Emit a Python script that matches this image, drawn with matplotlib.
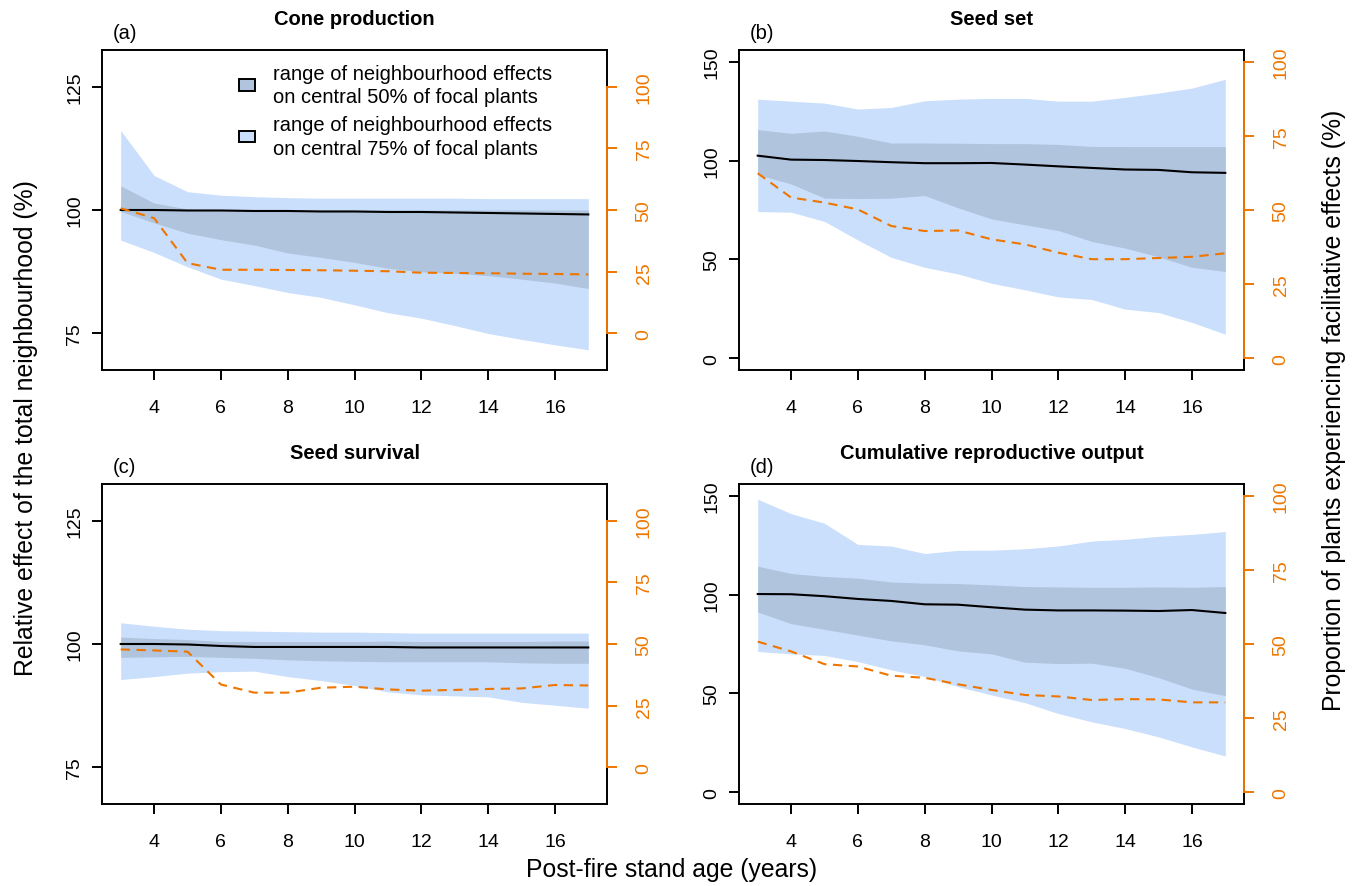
import matplotlib
matplotlib.use('Agg')
import matplotlib.pyplot as plt
from matplotlib.patches import Rectangle

plt.rcParams['font.family'] = ['Liberation Sans', 'DejaVu Sans']
plt.rcParams['lines.scale_dashes'] = False

W, H = 1353, 887
DPI = 100

age = list(range(3, 18))
age_ticks = [4, 6, 8, 10, 12, 14, 16]
facil_ticks = [0, 25, 50, 75, 100]

# (a) Cone production
cone_outer_upper = [116.1, 107.0, 103.7, 103.0, 102.7, 102.5, 102.4, 102.4, 102.4, 102.4, 102.4, 102.3, 102.3, 102.3, 102.3]
cone_inner_upper = [104.9, 101.4, 100.2, 100.0, 100.0, 100.0, 100.0, 100.0, 100.0, 100.0, 100.0, 100.0, 100.0, 100.0, 100.0]
cone_median      = [100.0, 100.0, 99.9, 99.9, 99.8, 99.8, 99.7, 99.7, 99.6, 99.6, 99.5, 99.4, 99.3, 99.2, 99.1]
cone_inner_lower = [99.7, 97.4, 95.3, 94.0, 92.9, 91.3, 90.4, 89.4, 88.2, 87.5, 87.2, 86.7, 86.0, 85.2, 84.1]
cone_outer_lower = [93.9, 91.4, 88.5, 86.0, 84.7, 83.3, 82.3, 80.8, 79.2, 78.1, 76.6, 75.0, 73.8, 72.7, 71.7]
cone_facil       = [50.7, 46.7, 28.5, 25.8, 25.8, 25.7, 25.6, 25.4, 25.2, 24.6, 24.5, 24.4, 24.2, 24.1, 23.9]

# (b) Seed set
set_outer_upper = [131.1, 130.1, 129.1, 126.1, 126.9, 130.3, 131.1, 131.5, 131.5, 130.1, 130.1, 132.0, 134.2, 136.7, 141.2]
set_inner_upper = [115.7, 113.8, 115.0, 112.3, 108.9, 108.9, 108.8, 108.6, 108.6, 108.2, 107.2, 107.1, 107.1, 107.1, 107.1]
set_median      = [102.5, 100.5, 100.3, 99.8, 99.2, 98.7, 98.7, 98.8, 98.0, 97.1, 96.3, 95.5, 95.3, 94.1, 93.8]
set_inner_lower = [92.9, 88.2, 81.0, 80.8, 81.0, 82.3, 76.1, 70.5, 67.5, 64.6, 59.1, 55.7, 51.3, 46.0, 43.9]
set_outer_lower = [74.2, 73.9, 69.2, 59.8, 51.0, 46.0, 42.6, 37.9, 34.6, 31.0, 29.7, 24.8, 23.1, 18.1, 12.1]
set_facil       = [62.4, 54.2, 52.5, 50.2, 44.6, 42.9, 43.1, 40.1, 38.4, 35.6, 33.4, 33.4, 33.8, 34.2, 35.4]

# (c) Seed survival
surv_outer_upper = [104.3, 103.6, 103.0, 102.7, 102.6, 102.5, 102.4, 102.4, 102.3, 102.2, 102.2, 102.2, 102.2, 102.2, 102.2]
surv_inner_upper = [101.4, 101.1, 100.9, 100.5, 100.5, 100.5, 100.5, 100.5, 100.6, 100.5, 100.5, 100.5, 100.5, 100.6, 100.6]
surv_median      = [100.0, 100.0, 99.9, 99.6, 99.4, 99.4, 99.4, 99.4, 99.4, 99.3, 99.3, 99.3, 99.3, 99.3, 99.3]
surv_inner_lower = [97.3, 97.4, 97.5, 97.3, 97.1, 96.8, 96.6, 96.5, 96.4, 96.4, 96.4, 96.4, 96.2, 96.1, 96.1]
surv_outer_lower = [92.8, 93.4, 94.1, 94.4, 94.5, 93.4, 92.6, 91.6, 90.3, 89.7, 89.5, 89.3, 88.2, 87.6, 87.0]
surv_facil       = [47.8, 47.4, 46.9, 33.6, 30.3, 30.3, 32.3, 32.7, 31.6, 31.1, 31.4, 31.8, 32.0, 33.4, 33.2]

# (d) Cumulative reproductive output
cum_outer_upper = [148.3, 141.0, 136.1, 125.4, 124.6, 120.8, 122.4, 122.5, 123.2, 124.6, 127.1, 128.0, 129.5, 130.5, 131.9]
cum_inner_upper = [114.4, 110.7, 109.2, 108.3, 106.4, 105.8, 105.6, 104.9, 104.1, 103.9, 103.7, 103.7, 103.9, 103.7, 104.1]
cum_median      = [100.3, 100.2, 99.2, 97.8, 96.8, 95.1, 94.9, 93.6, 92.4, 92.0, 92.0, 91.9, 91.7, 92.2, 90.7]
cum_inner_lower = [91.2, 85.3, 82.4, 79.5, 76.6, 74.6, 71.5, 70.0, 65.8, 65.1, 65.3, 62.7, 58.0, 52.2, 48.8]
cum_outer_lower = [71.2, 70.0, 69.2, 66.1, 61.9, 58.5, 53.4, 49.2, 45.3, 39.8, 35.6, 32.2, 28.0, 22.9, 18.3]
cum_facil       = [50.8, 47.5, 43.2, 42.4, 39.3, 38.6, 36.4, 34.5, 32.8, 32.3, 31.1, 31.4, 31.3, 30.3, 30.3]

titles = ["Cone production", "Seed set", "Seed survival", "Cumulative reproductive output"]
letters = ["(a)", "(b)", "(c)", "(d)"]
legend_labels = ["range of neighbourhood effects\non central 50% of focal plants",
                 "range of neighbourhood effects\non central 75% of focal plants"]

LIGHT = '#CADFFC'
DARK = '#B0C4DE'
ORANGE = '#EE7600'

panels = [
    dict(title=titles[0], letter=letters[0], ou=cone_outer_upper, iu=cone_inner_upper, med=cone_median,
         il=cone_inner_lower, ol=cone_outer_lower, fac=cone_facil,
         ylim=(67.6, 132.4), yticks=[75, 100, 125], ylim2=(-14.8, 114.8), box=(102, 51, 607, 371)),
    dict(title=titles[1], letter=letters[1], ou=set_outer_upper, iu=set_inner_upper, med=set_median,
         il=set_inner_lower, ol=set_outer_lower, fac=set_facil,
         ylim=(-6, 156), yticks=[0, 50, 100, 150], ylim2=(-4, 104), box=(739, 51, 1244, 371)),
    dict(title=titles[2], letter=letters[2], ou=surv_outer_upper, iu=surv_inner_upper, med=surv_median,
         il=surv_inner_lower, ol=surv_outer_lower, fac=surv_facil,
         ylim=(67.6, 132.4), yticks=[75, 100, 125], ylim2=(-14.8, 114.8), box=(102, 485, 607, 805)),
    dict(title=titles[3], letter=letters[3], ou=cum_outer_upper, iu=cum_inner_upper, med=cum_median,
         il=cum_inner_lower, ol=cum_outer_lower, fac=cum_facil,
         ylim=(-6, 156), yticks=[0, 50, 100, 150], ylim2=(-4, 104), box=(739, 485, 1244, 805)),
]

fig = plt.figure(figsize=(W / DPI, H / DPI), dpi=DPI)

TICKFS = 14
px = 72.0 / DPI  # points per pixel

for i, p in enumerate(panels):
    x0, y0, x1, y1 = p['box']
    ax = fig.add_axes([x0 / W, 1 - y1 / H, (x1 - x0) / W, (y1 - y0) / H])
    ax.fill_between(age, p['ol'], p['ou'], color=LIGHT, lw=0)
    ax.fill_between(age, p['il'], p['iu'], color=DARK, lw=0)
    ax.plot(age, p['med'], color='black', lw=1.5)
    ax.set_xlim(2.44, 17.56)
    ax.set_ylim(*p['ylim'])
    ax.set_xticks(age_ticks)
    ax.set_yticks(p['yticks'])
    for s in ax.spines.values():
        s.set_linewidth(1.4)
        s.set_color('black')
    ax.tick_params(axis='both', direction='out', length=10 * px, width=1.4, labelsize=TICKFS)
    ax.tick_params(axis='x', pad=19.4 * px)
    ax.tick_params(axis='y', labelrotation=90, pad=8.5 * px)
    for lab in ax.get_yticklabels():
        lab.set_va('center')

    ax2 = ax.twinx()
    ax2.plot(age, p['fac'], color=ORANGE, lw=1.5, dashes=(9.3 * px, 6.5 * px))
    ax2.set_ylim(*p['ylim2'])
    ax2.set_yticks(facil_ticks)
    for k in ['left', 'top', 'bottom']:
        ax2.spines[k].set_visible(False)
    ax2.spines['right'].set_color(ORANGE)
    ax2.spines['right'].set_linewidth(1.4)
    ax2.spines['right'].set_bounds(0, 100)
    ax2.tick_params(axis='y', direction='out', length=10 * px, width=1.4, colors=ORANGE,
                    labelsize=TICKFS, labelrotation=90, pad=18.7 * px)
    for lab in ax2.get_yticklabels():
        lab.set_va('center')

    ax.set_title(p['title'], fontsize=14.5, fontweight='bold', pad=25.7 * px)
    ax.annotate(p['letter'], xy=(0, 1), xycoords='axes fraction',
                xytext=(10.7 * px, 12.4 * px), textcoords='offset points',
                fontsize=14.5, ha='left', va='baseline')

    if i == 0:
        # legend drawn in axes-fraction coordinates
        bw = 15.7 / (x1 - x0)
        bh = 11.7 / (y1 - y0)
        bx = (239.3 - x0) / (x1 - x0)
        tx = (273 - x0) / (x1 - x0)
        for col, cy, lab in [(DARK, 85.9, legend_labels[0]), (LIGHT, 137.5, legend_labels[1])]:
            fy = (y1 - cy) / (y1 - y0)
            ax.add_patch(Rectangle((bx, fy - bh / 2), bw, bh, transform=ax.transAxes,
                                   facecolor=col, edgecolor='black', lw=1.4, zorder=5))
            ax.text(tx, fy, lab, transform=ax.transAxes, fontsize=14.5, ha='left', va='center',
                    linespacing=1.32, zorder=5)

fig.text(672 / W, 1 - 877 / H, "Post-fire stand age (years)", fontsize=17.8, ha='center', va='baseline')
fig.text(32.7 / W, 1 - 428 / H, "Relative effect of the total neighbourhood (%)", fontsize=17.8,
         rotation=90, rotation_mode='anchor', ha='center', va='baseline')
fig.text(1341 / W, 1 - 410 / H, "Proportion of plants experiencing facilitative effects (%)",
         fontsize=17.8, rotation=90, rotation_mode='anchor', ha='center', va='baseline')

fig.savefig('out.png', dpi=DPI)
